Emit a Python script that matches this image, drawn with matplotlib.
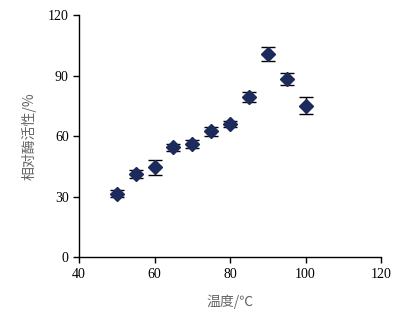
import matplotlib
matplotlib.use('Agg')
import matplotlib.pyplot as plt

temps = [50, 55, 60, 65, 70, 75, 80, 85, 90, 95, 100]
activity = [31.4, 41.0, 44.5, 54.4, 56.0, 62.5, 65.8, 79.2, 100.5, 88.1, 75.0]
errors = [1.8, 2.0, 3.9, 1.6, 1.9, 2.2, 1.5, 2.5, 3.5, 3.0, 4.2]

fig = plt.figure(figsize=(4.04, 3.14), dpi=100)
ax = fig.add_axes([0.196, 0.181, 0.747, 0.771])

ax.errorbar(temps, activity, yerr=errors, fmt='D', color='#1c2a5c',
            ms=7.5, ecolor='black', elinewidth=1, capsize=5, capthick=1)

ax.set_xlim(40, 120)
ax.set_ylim(0, 120)
ax.set_xticks([40, 60, 80, 100, 120])
ax.set_yticks([0, 30, 60, 90, 120])
for s in ['top', 'right']:
    ax.spines[s].set_visible(False)
for s in ['left', 'bottom']:
    ax.spines[s].set_linewidth(1)
ax.tick_params(direction='out', length=4, width=1, labelsize=10)
for lab in ax.get_xticklabels() + ax.get_yticklabels():
    lab.set_family('Liberation Serif')

ax.set_xlabel('温度/℃', family=['Noto Sans CJK SC', 'DejaVu Sans'],
              fontsize=10, color='#666666', labelpad=10)
ax.set_ylabel('相对酶活性/%', family=['Noto Sans CJK SC', 'DejaVu Sans'],
              fontsize=10, color='#666666', labelpad=8)

fig.savefig('out.png', dpi=100)
